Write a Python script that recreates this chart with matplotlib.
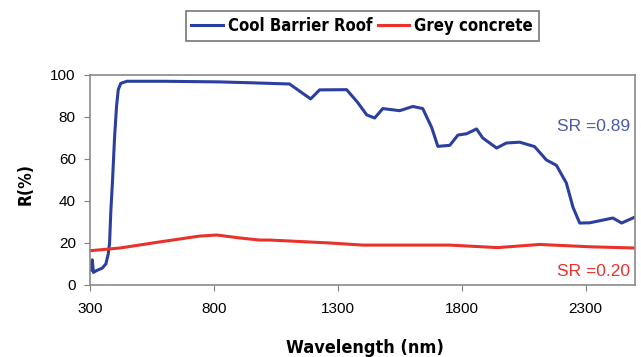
import matplotlib.pyplot as plt
from matplotlib import font_manager

# 反射率スペクトル (目視で読み取り)
wl_roof = [300, 305, 310, 315, 330, 350, 365, 375, 380, 385, 392, 400, 408, 415, 425, 450,
           600, 824, 945, 1106, 1150, 1191, 1227, 1336, 1380, 1417, 1449, 1482, 1550, 1603,
           1643, 1679, 1704, 1752, 1785, 1820, 1860, 1885, 1941, 1980, 2034, 2094, 2142,
           2182, 2222, 2249, 2276, 2316, 2410, 2445, 2500]
r_roof = [9, 7, 12, 6, 7, 8, 10, 15, 20, 35, 50, 70, 85, 93, 96, 97,
          97, 96.7, 96.3, 95.7, 92, 88.6, 92.9, 93, 87, 81, 79.5, 84, 83, 85,
          84, 75, 66, 66.5, 71.4, 72, 74.3, 70, 65.2, 67.6, 68, 65.9, 59.5,
          57, 48.6, 37, 29.5, 29.6, 31.9, 29.5, 32.4]

wl_grey = [300, 421, 582, 744, 812, 905, 985, 1026, 1268, 1401, 1752, 1945, 2114, 2316, 2500]
r_grey = [16.3, 17.6, 20.5, 23.3, 23.8, 22.4, 21.4, 21.4, 20, 19, 19, 17.8, 19.3, 18.2, 17.6]

x_ticks = [300, 800, 1300, 1800, 2300]
y_ticks = [0, 20, 40, 60, 80, 100]

# 細めの太字フォントを探す
names = set(f.name for f in font_manager.fontManager.ttflist)
stretches = set((f.name, f.stretch) for f in font_manager.fontManager.ttflist)
if 'Liberation Sans Narrow' in names:
    bold_prop = dict(family='Liberation Sans Narrow', weight='bold')
    lab_size, leg_size = 14, 14
elif any(n == 'DejaVu Sans' and s in ('condensed', 'semi-condensed', 75, 87) for n, s in stretches):
    bold_prop = dict(family='DejaVu Sans', weight='bold', stretch='condensed')
    lab_size, leg_size = 12.5, 12
else:
    bold_prop = dict(family='Liberation Sans', weight='bold')
    lab_size, leg_size = 12.5, 11.5

plt.rcParams['font.family'] = ['Liberation Sans', 'DejaVu Sans']

fig = plt.figure(figsize=(6.41, 3.57), dpi=100)
ax = fig.add_axes([0.140, 0.2017, 0.851, 0.5883])

ax.plot(wl_roof, r_roof, color='#2b3f9e', lw=2.2, label='Cool Barrier Roof')
ax.plot(wl_grey, r_grey, color='#e8322a', lw=2.2, label='Grey concrete')

ax.set_xlim(300, 2500)
ax.set_ylim(0, 100)
ax.set_xticks(x_ticks)
ax.set_yticks(y_ticks)
ax.tick_params(direction='out', length=4, color='#808080', labelsize=11, pad=6)
ax.tick_params(axis='x', pad=8)
for s in ax.spines.values():
    s.set_color('#8a8a8a')
    s.set_linewidth(1.2)

ax.text(2478, 75.5, 'SR =0.89', color='#4a5aa8', fontsize=12.5, ha='right', va='center')
ax.text(2478, 6.5, 'SR =0.20', color='#e8322a', fontsize=12.5, ha='right', va='center')

fig.text(0.040, 0.485, 'R(%)', rotation=90, ha='center', va='center',
         fontsize=lab_size, **bold_prop)
fig.text(0.570, 0.026, 'Wavelength (nm)', ha='center', va='center',
         fontsize=lab_size + 0.5, **bold_prop)

leg = ax.legend(loc='center', bbox_to_anchor=(0.565, 0.927), bbox_transform=fig.transFigure,
                ncol=2, frameon=True, fancybox=False, handlelength=1.9, handletextpad=0.3,
                columnspacing=0.3, borderpad=0.35,
                prop=dict(size=leg_size, **bold_prop))
leg.get_frame().set_edgecolor('#555555')
leg.get_frame().set_linewidth(1.2)

fig.savefig('out.png', dpi=100)
